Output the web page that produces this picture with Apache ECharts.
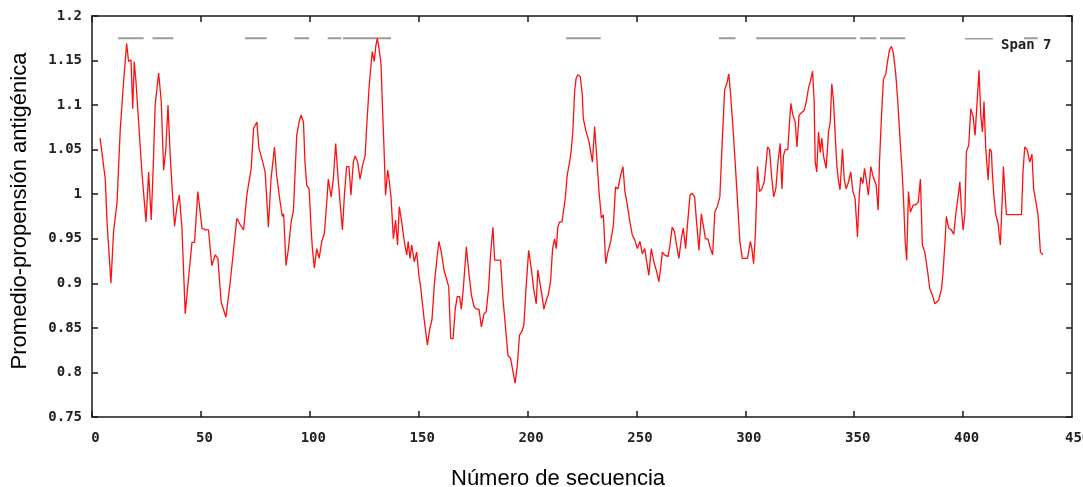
<!DOCTYPE html>
<html>
<head>
<meta charset="utf-8">
<script src="https://cdn.jsdelivr.net/npm/echarts@6/dist/echarts.min.js"></script>
<style>
  html, body { margin: 0; padding: 0; background: #fff; }
  #chart { width: 1083px; height: 487px; }
</style>
</head>
<body>
<div id="chart"></div>
<script>
// Sequence position (window centre) of each averaged value
const seqPos = [
  3.7, 6.1, 6.9, 8.7, 9.9, 11.5, 13.0, 14.5, 15.9, 16.8, 17.9, 18.7, 19.4, 20.2, 21.4, 22.9, 24.8, 26.0, 27.2, 28.3,
  29.0, 30.6, 31.8, 32.9, 33.9, 34.9, 35.9, 36.7, 37.9, 39.0, 40.1, 41.3, 42.8, 44.3, 45.9, 47.1, 48.6, 50.5, 52.0, 53.5,
  55.0, 56.6, 57.8, 59.3, 61.5, 63.5, 66.5, 68.0, 69.6, 71.1, 73.1, 74.2, 75.7, 76.7, 78.0, 79.5, 81.0, 82.2, 83.8, 84.8,
  86.4, 87.4, 88.0, 89.1, 90.2, 91.4, 92.5, 93.2, 94.0, 95.1, 96.0, 97.1, 97.8, 98.6, 99.7, 100.6, 101.2, 102.1, 103.2, 104.3,
  105.5, 106.7, 107.8, 108.5, 109.8, 110.8, 111.9, 112.8, 113.9, 115.0, 115.9, 116.9, 118.0, 118.9, 120.0, 120.8, 122.0, 123.1, 124.1, 125.4,
  126.1, 127.2, 128.1, 128.7, 129.6, 130.3, 131.0, 131.8, 132.7, 133.3, 134.1, 134.8, 135.8, 136.4, 137.3, 138.4, 139.4, 140.3, 141.1, 142.2,
  143.4, 144.5, 145.2, 146.0, 146.8, 148.0, 149.1, 150.1, 150.9, 152.5, 154.0, 155.1, 156.1, 157.3, 158.4, 159.3, 160.4, 161.6, 162.7, 163.8,
  164.7, 165.8, 166.8, 167.7, 168.8, 169.6, 170.5, 171.9, 173.0, 174.2, 175.4, 176.5, 177.7, 178.8, 180.0, 181.0, 182.1, 183.0, 184.1, 184.9,
  186.1, 187.6, 188.7, 189.8, 191.0, 192.2, 193.3, 194.3, 195.3, 196.3, 197.4, 198.3, 199.4, 200.5, 201.7, 202.8, 204.0, 204.7, 205.5, 206.6,
  207.5, 208.6, 209.6, 210.6, 211.5, 212.4, 213.2, 213.9, 214.7, 215.8, 216.7, 217.3, 218.2, 219.3, 220.0, 220.8, 221.6, 222.3, 223.1, 224.2,
  225.1, 225.6, 226.7, 228.2, 229.8, 230.8, 231.7, 232.8, 233.9, 234.8, 235.9, 236.9, 238.2, 239.4, 240.4, 241.5, 242.7, 243.8, 244.7, 245.8,
  247.0, 248.1, 249.2, 250.4, 251.6, 252.7, 253.8, 254.7, 255.7, 256.8, 258.0, 259.3, 260.3, 261.1, 261.9, 262.9, 264.5, 265.4, 266.4, 267.5,
  268.4, 269.5, 270.6, 271.5, 272.6, 273.3, 274.6, 275.6, 276.7, 277.6, 278.7, 279.8, 280.7, 281.7, 282.8, 284.0, 285.0, 286.0, 287.1, 288.3,
  289.4, 290.5, 291.7, 292.4, 293.2, 294.4, 295.5, 296.6, 297.5, 298.6, 299.7, 301.0, 302.3, 303.0, 303.8, 304.6, 305.0, 305.6, 306.5, 307.6,
  308.7, 309.6, 310.2, 311.1, 312.2, 313.0, 314.0, 315.0, 316.0, 316.8, 317.5, 318.3, 319.5, 320.3, 320.9, 321.8, 322.9, 323.7, 324.7, 326.0,
  327.0, 328.0, 329.0, 330.1, 330.9, 331.6, 332.1, 332.8, 333.6, 334.4, 335.1, 335.9, 337.1, 338.2, 339.0, 339.7, 340.5, 341.2, 342.0, 342.8,
  343.5, 344.6, 345.4, 346.3, 347.4, 348.4, 349.4, 350.4, 351.5, 352.3, 353.0, 354.0, 354.7, 355.5, 356.5, 357.6, 358.8, 360.1, 361.0, 361.6,
  362.4, 363.4, 364.5, 365.3, 366.2, 367.1, 368.0, 369.1, 370.0, 371.1, 372.0, 372.7, 373.4, 374.1, 374.9, 375.8, 377.1, 378.2, 379.4, 380.4,
  381.3, 382.4, 383.5, 384.7, 385.9, 387.0, 387.8, 388.8, 390.1, 390.8, 391.7, 392.3, 393.4, 394.6, 395.7, 396.6, 397.7, 398.5, 399.2, 400.0,
  400.8, 401.5, 402.6, 403.5, 404.6, 405.5, 406.4, 407.3, 408.1, 408.9, 409.6, 410.4, 411.5, 412.2, 413.0, 413.4, 414.1, 415.0, 416.0, 417.1,
  418.0, 418.5, 419.3, 419.9, 426.8, 427.5, 428.3, 429.4, 430.6, 431.6, 432.4, 433.3, 434.4, 435.5, 436.7
];

// Average antigenic propensity (window of 7 residues)
const propensity = [
  1.063, 1.017, 0.969, 0.900, 0.958, 0.991, 1.074, 1.126, 1.169, 1.149, 1.151, 1.096, 1.149, 1.126, 1.081, 1.025, 0.969, 1.025, 0.971, 1.044,
  1.100, 1.136, 1.104, 1.027, 1.051, 1.100, 1.044, 1.010, 0.964, 0.986, 0.999, 0.962, 0.866, 0.905, 0.946, 0.946, 1.003, 0.962, 0.960, 0.960,
  0.920, 0.932, 0.928, 0.879, 0.862, 0.902, 0.973, 0.966, 0.960, 0.999, 1.029, 1.074, 1.081, 1.051, 1.040, 1.025, 0.963, 1.017, 1.053, 1.021,
  0.991, 0.975, 0.978, 0.920, 0.939, 0.968, 0.982, 1.021, 1.066, 1.081, 1.089, 1.081, 1.036, 1.010, 1.006, 0.962, 0.939, 0.917, 0.939, 0.928,
  0.947, 0.956, 0.991, 1.017, 0.997, 1.017, 1.057, 1.025, 0.991, 0.960, 0.999, 1.031, 1.031, 0.999, 1.036, 1.043, 1.036, 1.017, 1.031, 1.043,
  1.074, 1.119, 1.145, 1.160, 1.149, 1.166, 1.175, 1.164, 1.147, 1.104, 1.051, 0.999, 1.027, 1.017, 0.997, 0.950, 0.971, 0.943, 0.986, 0.969,
  0.947, 0.932, 0.947, 0.928, 0.943, 0.924, 0.935, 0.909, 0.896, 0.860, 0.831, 0.849, 0.859, 0.902, 0.928, 0.947, 0.935, 0.915, 0.906, 0.896,
  0.838, 0.838, 0.871, 0.885, 0.885, 0.871, 0.894, 0.941, 0.913, 0.887, 0.874, 0.871, 0.871, 0.851, 0.866, 0.868, 0.894, 0.932, 0.963, 0.926,
  0.926, 0.926, 0.883, 0.853, 0.819, 0.816, 0.801, 0.788, 0.808, 0.842, 0.846, 0.853, 0.898, 0.937, 0.917, 0.894, 0.877, 0.915, 0.913, 0.887,
  0.871, 0.881, 0.888, 0.903, 0.939, 0.950, 0.939, 0.963, 0.969, 0.969, 0.971, 0.995, 1.021, 1.036, 1.048, 1.070, 1.115, 1.130, 1.134, 1.132,
  1.113, 1.085, 1.072, 1.059, 1.036, 1.076, 1.044, 1.003, 0.973, 0.977, 0.922, 0.935, 0.947, 0.965, 1.008, 1.006, 1.021, 1.031, 1.003, 0.988,
  0.969, 0.954, 0.949, 0.939, 0.947, 0.933, 0.939, 0.924, 0.909, 0.939, 0.924, 0.913, 0.902, 0.917, 0.935, 0.932, 0.930, 0.943, 0.963, 0.958,
  0.943, 0.928, 0.950, 0.962, 0.939, 0.962, 0.999, 1.001, 0.997, 0.969, 0.937, 0.978, 0.965, 0.950, 0.950, 0.939, 0.932, 0.980, 0.986, 0.997,
  1.059, 1.117, 1.126, 1.135, 1.113, 1.072, 1.029, 0.984, 0.947, 0.928, 0.928, 0.928, 0.947, 0.939, 0.922, 0.954, 0.984, 1.031, 1.003, 1.006,
  1.014, 1.036, 1.053, 1.050, 1.017, 0.997, 1.006, 1.036, 1.057, 1.006, 1.043, 1.050, 1.050, 1.081, 1.102, 1.089, 1.081, 1.053, 1.089, 1.092,
  1.094, 1.104, 1.119, 1.129, 1.138, 1.104, 1.036, 1.025, 1.070, 1.047, 1.063, 1.043, 1.029, 1.070, 1.081, 1.124, 1.104, 1.070, 1.033, 1.014,
  1.005, 1.051, 1.017, 1.006, 1.014, 1.025, 1.003, 0.995, 0.952, 0.999, 1.019, 1.012, 1.029, 1.017, 0.999, 1.031, 1.019, 1.010, 0.982, 1.036,
  1.081, 1.129, 1.135, 1.149, 1.162, 1.166, 1.158, 1.134, 1.104, 1.059, 1.025, 0.991, 0.947, 0.926, 1.003, 0.980, 0.988, 0.988, 0.991, 1.017,
  0.943, 0.935, 0.917, 0.894, 0.887, 0.877, 0.879, 0.881, 0.894, 0.913, 0.947, 0.975, 0.962, 0.960, 0.955, 0.977, 0.997, 1.014, 0.984, 0.960,
  0.977, 1.048, 1.055, 1.096, 1.087, 1.066, 1.065, 1.139, 1.089, 1.070, 1.104, 1.051, 1.016, 1.051, 1.048, 1.025, 0.999, 0.977, 0.968, 0.943,
  0.997, 1.031, 0.999, 0.977, 0.977, 1.025, 1.053, 1.050, 1.036, 1.045, 1.006, 1.004, 0.977, 0.935, 0.932
];

// Predicted antigenic regions [start, end] marked above the profile
const regions = [
  [12.0, 23.7], [27.8, 37.4], [70.3, 80.2], [92.9, 99.7], [108.2, 114.5], [115.3, 137.3],
  [217.7, 233.6], [287.9, 295.5], [305.0, 350.9], [352.7, 360.1], [361.9, 373.4], [428.0, 434.2]
];
const regionLevel = 1.175;

const xTicks = { min: 0, max: 450, step: 50 };
const yTicks = { min: 0.75, max: 1.2, step: 0.05 };

const profile = seqPos.map((x, i) => [x, propensity[i]]);
const regionLine = [];
regions.forEach(([s, e]) => {
  regionLine.push([s, regionLevel], [e, regionLevel], ['-', '-']);
});

const tickFont = { fontFamily: 'DejaVu Sans Mono', fontSize: 14, fontWeight: 'bold', color: '#222' };
const frame = { show: true, onZero: false, lineStyle: { color: '#1a1a1a', width: 1.5 } };
const innerTick = { show: true, inside: true, length: 6, lineStyle: { color: '#1a1a1a', width: 1.5 } };

const chart = echarts.init(document.getElementById('chart'), null, { renderer: 'canvas' });
chart.setOption({
  animation: false,
  backgroundColor: '#ffffff',
  grid: { left: 92, right: 11, top: 16, bottom: 70, containLabel: false },
  legend: {
    left: 965, top: 38, padding: 0,
    itemWidth: 28, itemHeight: 14,
    // key sample: a short rule drawn along the top of the icon box
    data: [{ name: 'Span 7', icon: 'path://M0,0H28V1.6H0ZM0,14H0.05V14.05H0Z' }],
    itemStyle: { color: '#9a9a9a' },
    textStyle: { fontFamily: 'DejaVu Sans Mono', fontSize: 14, fontWeight: 'bold', color: '#222', padding: [0, 0, 0, 3] },
    selectedMode: false
  },
  xAxis: [
    {
      type: 'value', position: 'bottom',
      min: xTicks.min, max: xTicks.max, interval: xTicks.step,
      axisLine: frame, axisTick: innerTick,
      axisLabel: Object.assign({ margin: 14, padding: [0, 0, 0, 7], showMaxLabel: false }, tickFont),
      splitLine: { show: false }
    },
    {
      type: 'value', position: 'top',
      min: xTicks.min, max: xTicks.max, interval: xTicks.step,
      axisLine: frame, axisTick: innerTick,
      axisLabel: { show: false }, splitLine: { show: false }
    }
  ],
  yAxis: [
    {
      type: 'value', position: 'left',
      min: yTicks.min, max: yTicks.max, interval: yTicks.step,
      axisLine: frame, axisTick: innerTick,
      axisLabel: Object.assign({ margin: 10 }, tickFont),
      splitLine: { show: false }
    },
    {
      type: 'value', position: 'right',
      min: yTicks.min, max: yTicks.max, interval: yTicks.step,
      axisLine: frame, axisTick: innerTick,
      axisLabel: { show: false }, splitLine: { show: false }
    }
  ],
  graphic: [
    {
      type: 'text', x: 20, y: 211, rotation: Math.PI / 2,
      style: {
        text: 'Promedio-propensión antigénica',
        font: '22px "Liberation Sans", Arial, sans-serif',
        fill: '#000', align: 'center', verticalAlign: 'middle'
      }
    },
    {
      type: 'text', x: 558, y: 479,
      style: {
        text: 'Número de secuencia',
        font: '22px "Liberation Sans", Arial, sans-serif',
        fill: '#000', align: 'center', verticalAlign: 'middle'
      }
    },
    {
      // last x tick label, running off the right edge of the canvas
      type: 'text', x: 1065, y: 438,
      style: {
        text: String(xTicks.max),
        font: 'bold 14px "DejaVu Sans Mono", monospace',
        fill: '#222', align: 'left', verticalAlign: 'middle'
      }
    }
  ],
  series: [
    {
      name: 'Propensión', type: 'line', data: profile,
      xAxisIndex: 0, yAxisIndex: 0,
      symbol: 'none', lineStyle: { color: '#ff1010', width: 1.3 },
      z: 3
    },
    {
      name: 'Span 7', type: 'line', data: regionLine,
      xAxisIndex: 0, yAxisIndex: 0,
      symbol: 'none', connectNulls: false,
      itemStyle: { color: '#9a9a9a' },
      lineStyle: { color: '#9a9a9a', width: 2 },
      z: 2
    }
  ]
});
</script>
</body>
</html>
